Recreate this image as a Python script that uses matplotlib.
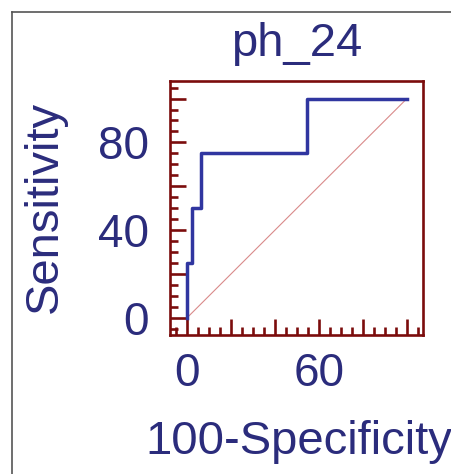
import matplotlib
matplotlib.use('Agg')
import matplotlib.pyplot as plt
from matplotlib.ticker import FixedLocator, FixedFormatter, MultipleLocator
from matplotlib.lines import Line2D

plt.rcParams['font.family'] = ['Liberation Sans', 'DejaVu Sans']

# ─── 数据 ───────────────────────────────────────────────
fpr = [0, 0, 2.3, 2.3, 6.5, 6.5, 54.7, 54.7, 100]     # 100-Specificity
tpr = [0, 25, 25, 50, 50, 75, 75, 100, 100]           # Sensitivity
x_ticks = [0, 20, 40, 60, 80, 100]
x_labels = ['0', '', '', '60', '', '']
y_ticks = [0, 20, 40, 60, 80, 100]
y_labels = ['0', '', '40', '', '80', '']

text_c = '#2b2c7c'
frame_c = '#7b0c0c'
curve_c = '#3036a0'

fig = plt.figure(figsize=(4.51, 4.74), dpi=100)
ax = fig.add_axes([170 / 451, 1 - 335 / 474, 253 / 451, 254 / 474])

ax.plot([0, 100], [0, 100], color='#d98a8a', linewidth=0.8)
ax.plot(fpr, tpr, color=curve_c, linewidth=2.5)

ax.set_xlim(-7.7, 107.3)
ax.set_ylim(-7.8, 108)

for s in ax.spines.values():
    s.set_color(frame_c)
    s.set_linewidth(1.9)

ax.xaxis.set_major_locator(FixedLocator(x_ticks))
ax.xaxis.set_major_formatter(FixedFormatter(x_labels))
ax.yaxis.set_major_locator(FixedLocator(y_ticks))
ax.yaxis.set_major_formatter(FixedFormatter(y_labels))
ax.xaxis.set_minor_locator(MultipleLocator(5))
ax.yaxis.set_minor_locator(MultipleLocator(5))

ax.tick_params(which='both', direction='in', color=frame_c, width=1.9,
               labelcolor=text_c, labelsize=33, top=False, right=False)
ax.tick_params(which='major', length=11.5)
ax.tick_params(which='minor', length=5.8)
ax.tick_params(axis='x', which='major', pad=12)
ax.tick_params(axis='y', which='major', pad=15)

fig.text(297 / 451, 1 - 44 / 474, 'ph_24', ha='center', va='center',
         fontsize=34, color=text_c)
fig.text(299 / 451, 1 - 442 / 474, '100-Specificity', ha='center', va='center',
         fontsize=34, color=text_c)
fig.text(45 / 451, 1 - 207 / 474, 'Sensitivity', ha='center', va='center',
         rotation=90, fontsize=34, color=text_c)

# 外框
fig.add_artist(Line2D([12 / 451, 12 / 451], [0, 1 - 12 / 474], color='#555555', linewidth=1.2))
fig.add_artist(Line2D([12 / 451, 1], [1 - 12 / 474, 1 - 12 / 474], color='#555555', linewidth=1.2))

fig.savefig('out.png', dpi=100)
